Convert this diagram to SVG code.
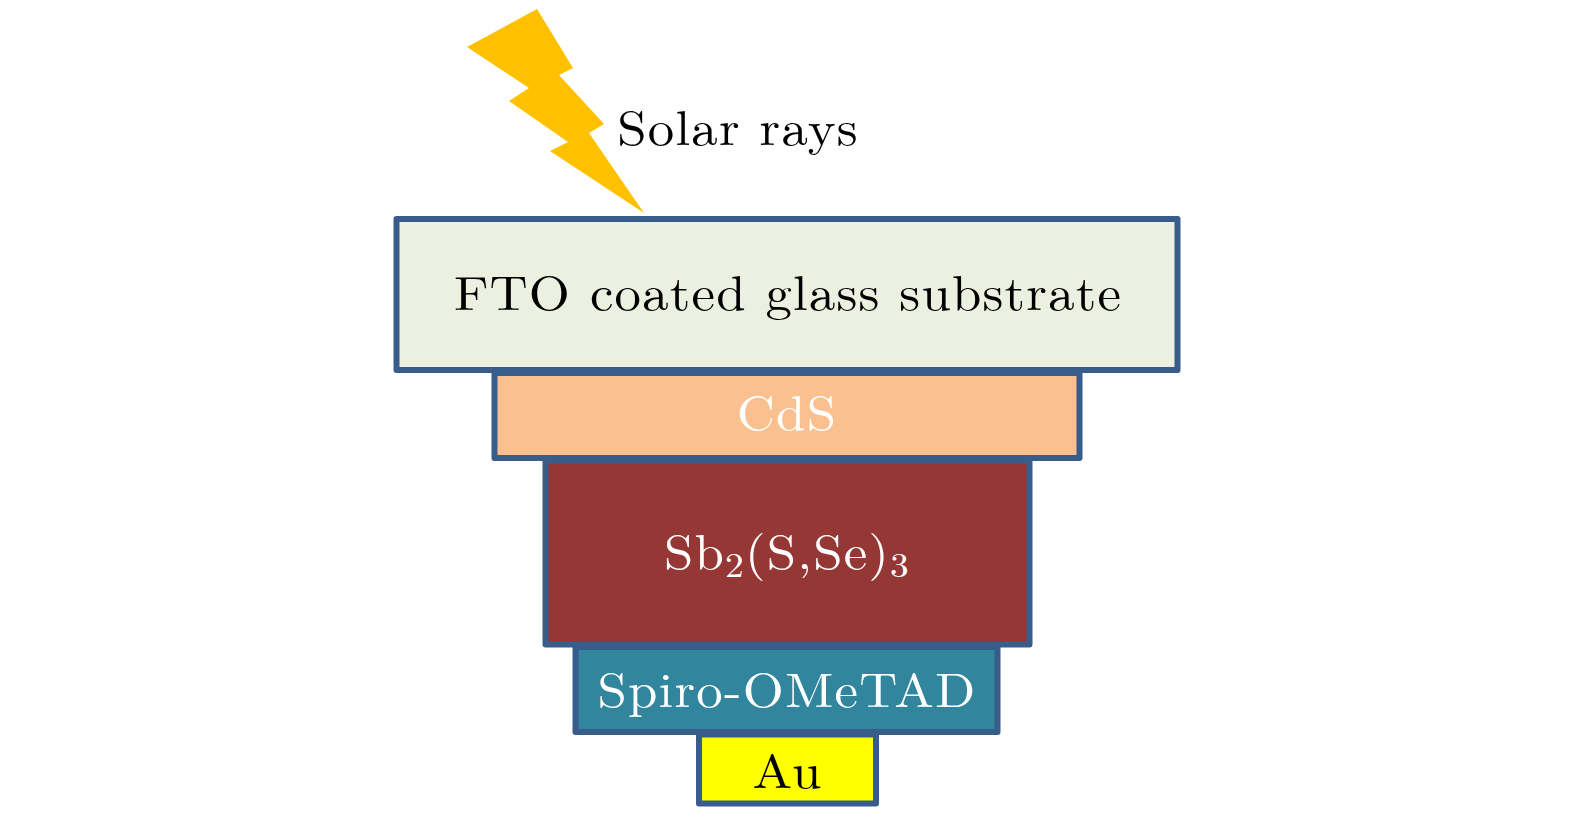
<svg xmlns="http://www.w3.org/2000/svg" width="1575" height="817" viewBox="0 0 1575 817">
<style>
.b{stroke:#385d8a;stroke-width:6;stroke-linejoin:round}
text{font-family:"Latin Modern Roman","Liberation Serif",serif;font-size:48px;letter-spacing:1.1px;text-anchor:middle}
.s{font-size:34px}
.w{fill:#fff}
</style>
<rect width="1575" height="817" fill="#fff"/>
<g id="bolt"><polygon points="537,9 467,47 529,88 509,101 568,142 550,151 644,213 589,133 604,124 559,75 573,68" fill="#ffc000"/></g>
<g id="solar"><text transform="translate(738,145) scale(1.1,1)">Solar rays</text></g>
<g id="fto"><rect class="b" x="396.500" y="219" width="781" height="151" fill="#ebf0e0"/><text transform="translate(788,310) scale(1.1,1)">FTO coated glass substrate</text></g>
<g id="cds"><rect class="b" x="494.500" y="373" width="585" height="85" fill="#fac090"/><text class="w" transform="translate(787,430) scale(1.1,1)">CdS</text></g>
<g id="sb"><rect class="b" x="545.500" y="460.500" width="484" height="184" fill="#953735"/><text class="w" transform="translate(787,569) scale(1.1,1)">Sb<tspan class="s" dy="8">2</tspan><tspan dy="-8">(S,Se)</tspan><tspan class="s" dy="8">3</tspan></text></g>
<g id="spiro"><rect class="b" x="575.500" y="647" width="422" height="85" fill="#31859c"/><text class="w" transform="translate(787,707) scale(1.1,1)">Spiro-OMeTAD</text></g>
<g id="au"><rect class="b" x="699" y="734.500" width="177" height="69" fill="#ff0"/><text transform="translate(787.500,788) scale(1.1,1)">Au</text></g>
</svg>
